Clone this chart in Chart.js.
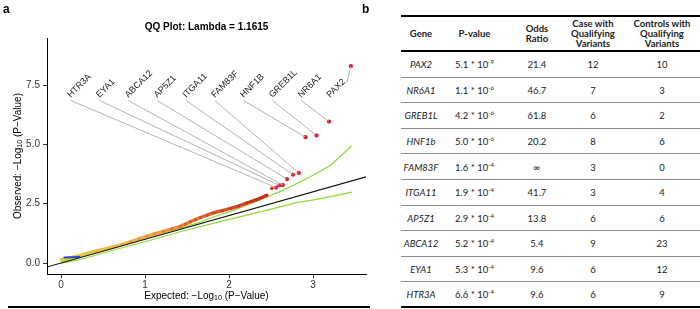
<!DOCTYPE html>
<html><head><meta charset="utf-8">
<script src="https://cdn.jsdelivr.net/npm/chart.js@4"></script>
<style>
html,body{margin:0;padding:0;background:#fff;}
#wrap{position:relative;width:700px;height:309px;overflow:hidden;background:#fff;}
#qq{position:absolute;left:0;top:0;}
.plab{position:absolute;font:bold 12px "Liberation Sans",Arial,sans-serif;color:#000;line-height:12px;}
#rule{position:absolute;left:8px;top:306px;width:362px;height:2px;background:#000;}
#tbl{position:absolute;left:401px;top:15px;width:303px;border-collapse:separate;border-spacing:0;table-layout:fixed;font-family:Lato,"Open Sans",sans-serif;font-size:9.5px;color:#222;}
#tbl th,#tbl td{box-sizing:border-box;padding:0;text-align:center;vertical-align:middle;}
#tbl th{font-weight:bold;line-height:10px;height:37px;border-top:2px solid #000;border-bottom:2px solid #000;}
#tbl td{height:25.6px;}
#tbl tr:last-child td{border-bottom:2px solid #000;}
#tbl td.g{font-style:italic;}
#tbl sup{font-size:6px;vertical-align:4px;line-height:0;}
.sep{position:absolute;left:401px;width:299px;height:0px;border-top:1px solid #8a8a8a;z-index:5;}
</style></head>
<body>
<div id="wrap">
  <canvas id="qq" width="370" height="309"></canvas>
  <div class="plab" style="left:3px;top:3px;">a</div>
  <div class="plab" style="left:362px;top:3px;">b</div>
  <div id="rule"></div>
  <table id="tbl">
    <colgroup><col style="width:40px"><col style="width:67px"><col style="width:58px"><col style="width:54px"><col style="width:84px"></colgroup>
    <thead><tr id="hdr"></tr></thead>
    <tbody id="tbody"></tbody>
  </table>
</div>
<script>
// ---------- data ----------
const tableHeaders = ['Gene','P-value','Odds<br>Ratio','Case with<br>Qualifying<br>Variants','Controls with<br>Qualifying<br>Variants'];
const genes = ['PAX2','NR6A1','GREB1L','HNF1b','FAM83F','ITGA11','AP5Z1','ABCA12','EYA1','HTR3A'];
const plotLabels = ['PAX2','NR6A1','GREB1L','HNF1B','FAM83F','ITGA11','AP5Z1','ABCA12','EYA1','HTR3A'];
const pMantissa = ['5.1','1.1','4.2','5.0','1.6','1.9','2.9','5.2','5.3','6.6'];
const pExponent = [-9,-6,-6,-6,-4,-4,-4,-4,-4,-4];
const oddsRatio = ['21.4','46.7','61.8','20.2','\u221E','41.7','13.8','5.4','9.6','9.6'];
const casesQV = [12,7,6,8,3,3,6,9,6,6];
const controlsQV = [10,3,2,6,0,4,6,23,12,9];

// expected -log10 p of the labelled genes
const geneExpected = [3.45,3.19,3.04,2.91,2.83,2.76,2.69,2.64,2.60,2.56];
const geneObserved = pMantissa.map((m,i)=> -Math.log10(parseFloat(m)*Math.pow(10,pExponent[i])));
const otherTopExpected = [2.51];
const otherTopObserved = [3.15];

// bulk of QQ points (band)
const bandExpected = [0.00,0.04,0.10,0.17,0.23,0.33,0.43,0.53,0.63,0.73,0.83,0.93,1.02,1.12,1.22,1.32,1.42,1.48,1.54,1.60,1.66,1.74,1.82,1.92,2.02,2.12,2.21,2.27,2.33,2.39,2.45];
const bandObserved = [0.14,0.18,0.22,0.27,0.32,0.43,0.52,0.60,0.69,0.79,0.90,1.02,1.13,1.24,1.34,1.44,1.55,1.64,1.74,1.83,1.92,2.02,2.12,2.21,2.30,2.41,2.53,2.60,2.67,2.76,2.86];

// confidence band
const upperExpected = [0.00,0.23,0.63,1.02,1.42,1.62,1.82,2.02,2.21,2.41,2.61,2.81,3.01,3.21,3.33,3.46];
const upperObserved = [0.04,0.28,0.70,1.08,1.47,1.68,1.95,2.18,2.44,2.72,3.02,3.35,3.72,4.12,4.52,4.93];
const lowerExpected = [0.00,0.07,0.23,0.63,1.02,1.42,1.82,2.21,2.61,2.81,3.01,3.21,3.46];
const lowerObserved = [0.00,0.04,0.15,0.55,0.92,1.32,1.68,2.02,2.37,2.56,2.66,2.80,2.99];

const blueExpected = [0.03,0.23];
const blueObserved = [0.23,0.26];

const diagExpected = [-0.17,3.63];
const diagObserved = [-0.17,3.63];

const xTickValues = [0,1,2,3];
const yTickValues = [0,2.5,5,7.5];

// ---------- table ----------
document.getElementById('hdr').innerHTML = tableHeaders.map(h=>'<th>'+h+'</th>').join('');
document.getElementById('tbody').innerHTML = genes.map((g,i)=>
  '<tr><td class="g">'+g+'</td><td>'+pMantissa[i]+' * 10<sup>'+pExponent[i]+'</sup></td><td>'+oddsRatio[i]+'</td><td>'+casesQV[i]+'</td><td>'+controlsQV[i]+'</td></tr>').join('');
(function(){
  const wrap=document.getElementById('wrap');
  const rows=document.querySelectorAll('#tbody tr');
  const wr=wrap.getBoundingClientRect();
  for(let i=0;i<rows.length-1;i++){
    const r=rows[i].getBoundingClientRect();
    const d=document.createElement('div');
    d.className='sep';
    d.style.top=Math.round(r.bottom-wr.top-1)+'px';
    wrap.appendChild(d);
  }
})();

// ---------- chart ----------
const pts = (xs,ys)=>xs.map((x,i)=>({x:x,y:ys[i]}));
const stops = [[0,[217,214,74]],[1.0,[240,180,67]],[1.6,[234,138,53]],[2.2,[217,83,42]],[3.0,[200,38,30]]];
function colorFor(y){
  if(y==null) return 'rgb(234,138,53)';
  if(y<=stops[0][0]) return 'rgb('+stops[0][1].join(',')+')';
  for(let i=1;i<stops.length;i++){
    if(y<=stops[i][0]){
      const t=(y-stops[i-1][0])/(stops[i][0]-stops[i-1][0]);
      const c=stops[i-1][1].map((v,k)=>Math.round(v+(stops[i][1][k]-v)*t));
      return 'rgb('+c.join(',')+')';
    }
  }
  return 'rgb('+stops[stops.length-1][1].join(',')+')';
}
function bandGradient(ctx){
  const ch=ctx.chart;
  if(!ch.chartArea) return colorFor(1.5);
  const ys=ch.scales.y;
  const y0=ys.getPixelForValue(0), y3=ys.getPixelForValue(3);
  const g=ch.ctx.createLinearGradient(0,y0,0,y3);
  stops.forEach(s=>g.addColorStop(s[0]/3,'rgb('+s[1].join(',')+')'));
  return g;
}

function drawSubText(ctx, parts, cx, cy){
  let total=0;
  parts.forEach(p=>{ctx.font=p.f; p.w=ctx.measureText(p.t).width; total+=p.w;});
  let x=cx-total/2;
  ctx.textAlign='left';
  parts.forEach(p=>{ctx.font=p.f; ctx.fillText(p.t,x,cy+(p.dy||0)); x+=p.w;});
}

const annot = {
  id:'annot',
  afterDatasetsDraw(chart, args, opts){
    const ctx=chart.ctx, xs=chart.scales.x, ys=chart.scales.y;
    ctx.save();
    ctx.font='9px "Liberation Sans", Arial, sans-serif';
    const n=plotLabels.length;
    for(let r=0;r<n;r++){
      const j=n-1-r; // left-to-right slot
      const ax=xs.getPixelForValue(opts.startX + j*opts.stepX);
      const ay=ys.getPixelForValue(opts.labelY);
      const px=xs.getPixelForValue(geneExpected[r]);
      const py=ys.getPixelForValue(geneObserved[r]);
      const w=ctx.measureText(plotLabels[r]).width;
      let sx=ax, sy=ay+1;
      if(py<ay){ sx=ax+w*Math.SQRT1_2+1; sy=ay-w*Math.SQRT1_2-1; }
      ctx.strokeStyle='#ababab'; ctx.lineWidth=0.9;
      ctx.beginPath(); ctx.moveTo(sx,sy); ctx.lineTo(px,py); ctx.stroke();
      ctx.save();
      ctx.translate(ax,ay);
      ctx.rotate(-Math.PI/4);
      ctx.fillStyle='#1a1a1a';
      ctx.textAlign='left'; ctx.textBaseline='alphabetic';
      ctx.fillText(plotLabels[r],1,-1);
      ctx.restore();
    }
    ctx.restore();
  },
  afterDraw(chart){
    const ctx=chart.ctx, a=chart.chartArea;
    const cx=(a.left+a.right)/2, cy=(a.top+a.bottom)/2;
    ctx.save();
    ctx.fillStyle='#000';
    ctx.textBaseline='middle';
    ctx.textAlign='center';
    ctx.font='bold 10px "Liberation Sans", Arial, sans-serif';
    ctx.fillText('QQ Plot: Lambda = 1.1615', cx, 27);
    const big='10px "Liberation Sans", Arial, sans-serif', sm='7px "Liberation Sans", Arial, sans-serif';
    drawSubText(ctx,[{t:'Expected: \u2212Log',f:big},{t:'10',f:sm,dy:2},{t:' (P\u2212Value)',f:big}],cx,296);
    ctx.translate(18,cy);
    ctx.rotate(-Math.PI/2);
    drawSubText(ctx,[{t:'Observed: \u2212Log',f:big},{t:'10',f:sm,dy:2},{t:' (P\u2212Value)',f:big}],0,0);
    ctx.restore();
  }
};

const tickFont={family:'"Liberation Sans", Arial, sans-serif', size:10};
new Chart(document.getElementById('qq'),{
  type:'scatter',
  data:{datasets:[
    {data:pts(geneExpected,geneObserved), backgroundColor:'#e3162b', pointRadius:2.1, pointBorderWidth:0, order:1},
    {data:pts(otherTopExpected,otherTopObserved), backgroundColor:'#d8361e', pointRadius:1.9, pointBorderWidth:0, order:1},
    {data:pts(diagExpected,diagObserved), showLine:true, borderColor:'#111', borderWidth:1.1, pointRadius:0, order:2},
    {data:pts(blueExpected,blueObserved), showLine:true, borderColor:'#2b45d6', borderWidth:2, pointRadius:0, order:3},
    {data:pts(bandExpected,bandObserved), showLine:true, borderColor:bandGradient, borderWidth:3.4, pointRadius:1.6, pointBorderWidth:0,
      pointBackgroundColor:c=>colorFor(c.raw?c.raw.y+0.4:null), order:4},
    {data:pts(upperExpected,upperObserved), showLine:true, borderColor:'#8fd93a', borderWidth:1.2, pointRadius:0, order:5},
    {data:pts(lowerExpected,lowerObserved), showLine:true, borderColor:'#8fd93a', borderWidth:1.2, pointRadius:0, order:5}
  ]},
  options:{
    responsive:false, animation:false, events:[],
    layout:{padding:{top:38,right:4,left:0,bottom:0}},
    plugins:{legend:{display:false},tooltip:{enabled:false},title:{display:false},
      annot:{startX:0.115, stepX:0.343, labelY:6.89}},
    scales:{
      x:{type:'linear', min:-0.167, max:3.63,
        afterBuildTicks:s=>{s.ticks=xTickValues.map(v=>({value:v}));},
        afterFit:s=>{s.height=35;},
        grid:{drawOnChartArea:false, drawTicks:true, tickLength:4, color:'#333', lineWidth:1},
        border:{display:true, color:'#000', width:1},
        ticks:{padding:1, color:'#333', font:tickFont, maxRotation:0, callback:v=>String(v)}},
      y:{type:'linear', min:-0.46, max:9.48,
        afterBuildTicks:s=>{s.ticks=yTickValues.map(v=>({value:v}));},
        afterFit:s=>{s.width=47;},
        grid:{drawOnChartArea:false, drawTicks:true, tickLength:4, color:'#333', lineWidth:1},
        border:{display:true, color:'#000', width:1},
        ticks:{padding:3, color:'#333', font:tickFont, callback:v=>Number(v).toFixed(1)}}
    }
  },
  plugins:[annot]
});
</script>
</body></html>
